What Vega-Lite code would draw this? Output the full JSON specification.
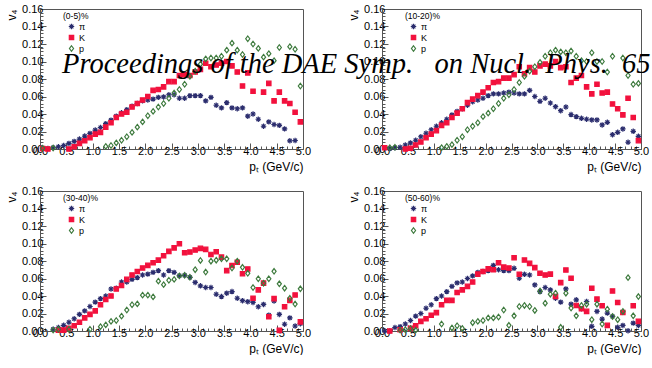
{
"$schema": "https://vega.github.io/schema/vega-lite/v6.json",
"background": "white",
"padding": {"left": 5, "top": 2, "right": 0, "bottom": 0},
"title": {"text": "Proceedings of the DAE Symp.\u00a0\u00a0 on Nucl.\u00a0 Phys.\u00a0 65", "font": "Liberation Serif", "fontSize": 28.5, "fontStyle": "italic", "fontWeight": "normal", "color": "#000", "anchor": "start", "frame": "group", "orient": "top", "offset": 0, "baseline": "alphabetic", "dx": 22, "dy": 99},
"datasets": {"d": [
{"c":1,"s":"π","x":0.05,"v":0.001},{"c":1,"s":"π","x":0.15,"v":0.0005},{"c":1,"s":"π","x":0.25,"v":0.0015},{"c":1,"s":"π","x":0.35,"v":0.0026},{"c":1,"s":"π","x":0.45,"v":0.004},{"c":1,"s":"π","x":0.55,"v":0.0064},{"c":1,"s":"π","x":0.65,"v":0.0087},{"c":1,"s":"π","x":0.75,"v":0.0113},{"c":1,"s":"π","x":0.85,"v":0.0148},{"c":1,"s":"π","x":0.95,"v":0.0178},{"c":1,"s":"π","x":1.05,"v":0.0216},{"c":1,"s":"π","x":1.15,"v":0.0246},{"c":1,"s":"π","x":1.25,"v":0.029},{"c":1,"s":"π","x":1.35,"v":0.033},{"c":1,"s":"π","x":1.45,"v":0.0375},{"c":1,"s":"π","x":1.55,"v":0.0413},{"c":1,"s":"π","x":1.65,"v":0.045},{"c":1,"s":"π","x":1.75,"v":0.049},{"c":1,"s":"π","x":1.85,"v":0.052},{"c":1,"s":"π","x":1.95,"v":0.055},{"c":1,"s":"π","x":2.05,"v":0.056},{"c":1,"s":"π","x":2.15,"v":0.057},{"c":1,"s":"π","x":2.25,"v":0.059},{"c":1,"s":"π","x":2.35,"v":0.0595},{"c":1,"s":"π","x":2.45,"v":0.062},{"c":1,"s":"π","x":2.55,"v":0.062},{"c":1,"s":"π","x":2.65,"v":0.058},{"c":1,"s":"π","x":2.75,"v":0.058},{"c":1,"s":"π","x":2.85,"v":0.061},{"c":1,"s":"π","x":2.95,"v":0.061},{"c":1,"s":"π","x":3.05,"v":0.061},{"c":1,"s":"π","x":3.15,"v":0.055},{"c":1,"s":"π","x":3.25,"v":0.059},{"c":1,"s":"π","x":3.35,"v":0.05},{"c":1,"s":"π","x":3.45,"v":0.047},{"c":1,"s":"π","x":3.55,"v":0.053},{"c":1,"s":"π","x":3.65,"v":0.047},{"c":1,"s":"π","x":3.75,"v":0.046},{"c":1,"s":"π","x":3.85,"v":0.047},{"c":1,"s":"π","x":3.95,"v":0.0375},{"c":1,"s":"π","x":4.05,"v":0.04},{"c":1,"s":"π","x":4.15,"v":0.034},{"c":1,"s":"π","x":4.25,"v":0.026},{"c":1,"s":"π","x":4.35,"v":0.031},{"c":1,"s":"π","x":4.45,"v":0.028},{"c":1,"s":"π","x":4.55,"v":0.027},{"c":1,"s":"π","x":4.65,"v":0.023},{"c":1,"s":"π","x":4.75,"v":0.0094},{"c":1,"s":"π","x":4.85,"v":0.0097},
{"c":1,"s":"K","x":0.05,"v":0.0005},{"c":1,"s":"K","x":0.15,"v":0.0},{"c":1,"s":"K","x":0.55,"v":0.0},{"c":1,"s":"K","x":0.65,"v":0.0026},{"c":1,"s":"K","x":0.75,"v":0.0064},{"c":1,"s":"K","x":0.85,"v":0.0094},{"c":1,"s":"K","x":0.95,"v":0.013},{"c":1,"s":"K","x":1.05,"v":0.017},{"c":1,"s":"K","x":1.15,"v":0.019},{"c":1,"s":"K","x":1.25,"v":0.025},{"c":1,"s":"K","x":1.35,"v":0.03},{"c":1,"s":"K","x":1.45,"v":0.036},{"c":1,"s":"K","x":1.55,"v":0.04},{"c":1,"s":"K","x":1.65,"v":0.042},{"c":1,"s":"K","x":1.75,"v":0.048},{"c":1,"s":"K","x":1.85,"v":0.052},{"c":1,"s":"K","x":1.95,"v":0.056},{"c":1,"s":"K","x":2.05,"v":0.06},{"c":1,"s":"K","x":2.15,"v":0.067},{"c":1,"s":"K","x":2.25,"v":0.068},{"c":1,"s":"K","x":2.35,"v":0.071},{"c":1,"s":"K","x":2.45,"v":0.077},{"c":1,"s":"K","x":2.55,"v":0.077},{"c":1,"s":"K","x":2.65,"v":0.084},{"c":1,"s":"K","x":2.75,"v":0.085},{"c":1,"s":"K","x":2.85,"v":0.084},{"c":1,"s":"K","x":2.95,"v":0.088},{"c":1,"s":"K","x":3.05,"v":0.091},{"c":1,"s":"K","x":3.15,"v":0.098},{"c":1,"s":"K","x":3.25,"v":0.094},{"c":1,"s":"K","x":3.35,"v":0.096},{"c":1,"s":"K","x":3.45,"v":0.098},{"c":1,"s":"K","x":3.55,"v":0.1},{"c":1,"s":"K","x":3.65,"v":0.095},{"c":1,"s":"K","x":3.75,"v":0.088},{"c":1,"s":"K","x":3.85,"v":0.072},{"c":1,"s":"K","x":3.95,"v":0.087},{"c":1,"s":"K","x":4.05,"v":0.066},{"c":1,"s":"K","x":4.25,"v":0.065},{"c":1,"s":"K","x":4.35,"v":0.075},{"c":1,"s":"K","x":4.45,"v":0.055},{"c":1,"s":"K","x":4.55,"v":0.065},{"c":1,"s":"K","x":4.65,"v":0.055},{"c":1,"s":"K","x":4.75,"v":0.052},{"c":1,"s":"K","x":4.85,"v":0.042},{"c":1,"s":"K","x":4.95,"v":0.031},
{"c":1,"s":"p","x":0.05,"v":0.001},{"c":1,"s":"p","x":0.25,"v":0.0012},{"c":1,"s":"p","x":1.25,"v":0.003},{"c":1,"s":"p","x":1.35,"v":0.004},{"c":1,"s":"p","x":1.45,"v":0.007},{"c":1,"s":"p","x":1.55,"v":0.01},{"c":1,"s":"p","x":1.65,"v":0.014},{"c":1,"s":"p","x":1.75,"v":0.019},{"c":1,"s":"p","x":1.85,"v":0.025},{"c":1,"s":"p","x":1.95,"v":0.031},{"c":1,"s":"p","x":2.05,"v":0.038},{"c":1,"s":"p","x":2.15,"v":0.043},{"c":1,"s":"p","x":2.25,"v":0.048},{"c":1,"s":"p","x":2.35,"v":0.052},{"c":1,"s":"p","x":2.45,"v":0.058},{"c":1,"s":"p","x":2.55,"v":0.064},{"c":1,"s":"p","x":2.65,"v":0.068},{"c":1,"s":"p","x":2.75,"v":0.074},{"c":1,"s":"p","x":2.85,"v":0.083},{"c":1,"s":"p","x":2.95,"v":0.089},{"c":1,"s":"p","x":3.05,"v":0.097},{"c":1,"s":"p","x":3.15,"v":0.103},{"c":1,"s":"p","x":3.25,"v":0.104},{"c":1,"s":"p","x":3.35,"v":0.104},{"c":1,"s":"p","x":3.45,"v":0.106},{"c":1,"s":"p","x":3.55,"v":0.113},{"c":1,"s":"p","x":3.65,"v":0.121},{"c":1,"s":"p","x":3.75,"v":0.113},{"c":1,"s":"p","x":3.85,"v":0.108},{"c":1,"s":"p","x":3.95,"v":0.126},{"c":1,"s":"p","x":4.05,"v":0.12},{"c":1,"s":"p","x":4.15,"v":0.115},{"c":1,"s":"p","x":4.25,"v":0.105},{"c":1,"s":"p","x":4.35,"v":0.109},{"c":1,"s":"p","x":4.45,"v":0.101},{"c":1,"s":"p","x":4.55,"v":0.116},{"c":1,"s":"p","x":4.75,"v":0.117},{"c":1,"s":"p","x":4.85,"v":0.114},{"c":1,"s":"p","x":4.95,"v":0.072},
{"c":2,"s":"π","x":0.15,"v":0.0005},{"c":2,"s":"π","x":0.25,"v":0.0015},{"c":2,"s":"π","x":0.35,"v":0.002},{"c":2,"s":"π","x":0.45,"v":0.0046},{"c":2,"s":"π","x":0.55,"v":0.007},{"c":2,"s":"π","x":0.65,"v":0.01},{"c":2,"s":"π","x":0.75,"v":0.014},{"c":2,"s":"π","x":0.85,"v":0.018},{"c":2,"s":"π","x":0.95,"v":0.022},{"c":2,"s":"π","x":1.05,"v":0.026},{"c":2,"s":"π","x":1.15,"v":0.03},{"c":2,"s":"π","x":1.25,"v":0.034},{"c":2,"s":"π","x":1.35,"v":0.039},{"c":2,"s":"π","x":1.45,"v":0.043},{"c":2,"s":"π","x":1.55,"v":0.046},{"c":2,"s":"π","x":1.65,"v":0.05},{"c":2,"s":"π","x":1.75,"v":0.054},{"c":2,"s":"π","x":1.85,"v":0.056},{"c":2,"s":"π","x":1.95,"v":0.058},{"c":2,"s":"π","x":2.05,"v":0.061},{"c":2,"s":"π","x":2.15,"v":0.063},{"c":2,"s":"π","x":2.25,"v":0.063},{"c":2,"s":"π","x":2.35,"v":0.064},{"c":2,"s":"π","x":2.45,"v":0.065},{"c":2,"s":"π","x":2.55,"v":0.064},{"c":2,"s":"π","x":2.65,"v":0.063},{"c":2,"s":"π","x":2.75,"v":0.063},{"c":2,"s":"π","x":2.85,"v":0.067},{"c":2,"s":"π","x":2.95,"v":0.06},{"c":2,"s":"π","x":3.05,"v":0.0545},{"c":2,"s":"π","x":3.15,"v":0.058},{"c":2,"s":"π","x":3.25,"v":0.0526},{"c":2,"s":"π","x":3.35,"v":0.0484},{"c":2,"s":"π","x":3.45,"v":0.0438},{"c":2,"s":"π","x":3.55,"v":0.048},{"c":2,"s":"π","x":3.65,"v":0.0393},{"c":2,"s":"π","x":3.75,"v":0.037},{"c":2,"s":"π","x":3.85,"v":0.0351},{"c":2,"s":"π","x":3.95,"v":0.034},{"c":2,"s":"π","x":4.05,"v":0.0332},{"c":2,"s":"π","x":4.15,"v":0.0332},{"c":2,"s":"π","x":4.25,"v":0.0275},{"c":2,"s":"π","x":4.35,"v":0.0305},{"c":2,"s":"π","x":4.45,"v":0.0164},{"c":2,"s":"π","x":4.55,"v":0.0191},{"c":2,"s":"π","x":4.65,"v":0.0229},{"c":2,"s":"π","x":4.75,"v":0.0077},{"c":2,"s":"π","x":4.85,"v":0.0202},{"c":2,"s":"π","x":4.95,"v":0.0145},
{"c":2,"s":"K","x":0.05,"v":0.0015},{"c":2,"s":"K","x":0.45,"v":0.0},{"c":2,"s":"K","x":0.55,"v":0.0008},{"c":2,"s":"K","x":0.65,"v":0.0046},{"c":2,"s":"K","x":0.75,"v":0.008},{"c":2,"s":"K","x":0.85,"v":0.013},{"c":2,"s":"K","x":0.95,"v":0.017},{"c":2,"s":"K","x":1.05,"v":0.021},{"c":2,"s":"K","x":1.15,"v":0.027},{"c":2,"s":"K","x":1.25,"v":0.03},{"c":2,"s":"K","x":1.35,"v":0.036},{"c":2,"s":"K","x":1.45,"v":0.041},{"c":2,"s":"K","x":1.55,"v":0.046},{"c":2,"s":"K","x":1.65,"v":0.053},{"c":2,"s":"K","x":1.75,"v":0.057},{"c":2,"s":"K","x":1.85,"v":0.061},{"c":2,"s":"K","x":1.95,"v":0.065},{"c":2,"s":"K","x":2.05,"v":0.07},{"c":2,"s":"K","x":2.15,"v":0.076},{"c":2,"s":"K","x":2.25,"v":0.077},{"c":2,"s":"K","x":2.35,"v":0.081},{"c":2,"s":"K","x":2.45,"v":0.081},{"c":2,"s":"K","x":2.55,"v":0.085},{"c":2,"s":"K","x":2.65,"v":0.094},{"c":2,"s":"K","x":2.75,"v":0.086},{"c":2,"s":"K","x":2.85,"v":0.093},{"c":2,"s":"K","x":2.95,"v":0.088},{"c":2,"s":"K","x":3.05,"v":0.095},{"c":2,"s":"K","x":3.15,"v":0.097},{"c":2,"s":"K","x":3.25,"v":0.095},{"c":2,"s":"K","x":3.35,"v":0.1},{"c":2,"s":"K","x":3.45,"v":0.093},{"c":2,"s":"K","x":3.55,"v":0.094},{"c":2,"s":"K","x":3.65,"v":0.076},{"c":2,"s":"K","x":3.75,"v":0.081},{"c":2,"s":"K","x":3.85,"v":0.084},{"c":2,"s":"K","x":3.95,"v":0.071},{"c":2,"s":"K","x":4.05,"v":0.063},{"c":2,"s":"K","x":4.15,"v":0.074},{"c":2,"s":"K","x":4.25,"v":0.064},{"c":2,"s":"K","x":4.35,"v":0.065},{"c":2,"s":"K","x":4.45,"v":0.0515},{"c":2,"s":"K","x":4.55,"v":0.046},{"c":2,"s":"K","x":4.65,"v":0.039},{"c":2,"s":"K","x":4.75,"v":0.058},{"c":2,"s":"K","x":4.85,"v":0.036},{"c":2,"s":"K","x":4.95,"v":0.0096},
{"c":2,"s":"p","x":0.15,"v":0.0015},{"c":2,"s":"p","x":0.25,"v":0.002},{"c":2,"s":"p","x":1.15,"v":0.0015},{"c":2,"s":"p","x":1.25,"v":0.003},{"c":2,"s":"p","x":1.35,"v":0.005},{"c":2,"s":"p","x":1.45,"v":0.01},{"c":2,"s":"p","x":1.55,"v":0.014},{"c":2,"s":"p","x":1.65,"v":0.022},{"c":2,"s":"p","x":1.75,"v":0.026},{"c":2,"s":"p","x":1.85,"v":0.03},{"c":2,"s":"p","x":1.95,"v":0.037},{"c":2,"s":"p","x":2.05,"v":0.041},{"c":2,"s":"p","x":2.15,"v":0.046},{"c":2,"s":"p","x":2.25,"v":0.052},{"c":2,"s":"p","x":2.35,"v":0.058},{"c":2,"s":"p","x":2.45,"v":0.062},{"c":2,"s":"p","x":2.55,"v":0.068},{"c":2,"s":"p","x":2.65,"v":0.076},{"c":2,"s":"p","x":2.75,"v":0.083},{"c":2,"s":"p","x":2.85,"v":0.089},{"c":2,"s":"p","x":2.95,"v":0.094},{"c":2,"s":"p","x":3.05,"v":0.099},{"c":2,"s":"p","x":3.15,"v":0.106},{"c":2,"s":"p","x":3.25,"v":0.11},{"c":2,"s":"p","x":3.35,"v":0.113},{"c":2,"s":"p","x":3.45,"v":0.111},{"c":2,"s":"p","x":3.55,"v":0.11},{"c":2,"s":"p","x":3.65,"v":0.112},{"c":2,"s":"p","x":3.75,"v":0.106},{"c":2,"s":"p","x":3.85,"v":0.101},{"c":2,"s":"p","x":3.95,"v":0.1},{"c":2,"s":"p","x":4.05,"v":0.11},{"c":2,"s":"p","x":4.15,"v":0.1},{"c":2,"s":"p","x":4.25,"v":0.1},{"c":2,"s":"p","x":4.35,"v":0.088},{"c":2,"s":"p","x":4.45,"v":0.106},{"c":2,"s":"p","x":4.65,"v":0.104},{"c":2,"s":"p","x":4.75,"v":0.084},{"c":2,"s":"p","x":4.85,"v":0.074},{"c":2,"s":"p","x":4.95,"v":0.075},
{"c":3,"s":"π","x":0.25,"v":0.002},{"c":3,"s":"π","x":0.35,"v":0.004},{"c":3,"s":"π","x":0.45,"v":0.0065},{"c":3,"s":"π","x":0.55,"v":0.01},{"c":3,"s":"π","x":0.65,"v":0.014},{"c":3,"s":"π","x":0.75,"v":0.019},{"c":3,"s":"π","x":0.85,"v":0.023},{"c":3,"s":"π","x":0.95,"v":0.028},{"c":3,"s":"π","x":1.05,"v":0.033},{"c":3,"s":"π","x":1.15,"v":0.037},{"c":3,"s":"π","x":1.25,"v":0.04},{"c":3,"s":"π","x":1.35,"v":0.048},{"c":3,"s":"π","x":1.45,"v":0.049},{"c":3,"s":"π","x":1.55,"v":0.056},{"c":3,"s":"π","x":1.65,"v":0.056},{"c":3,"s":"π","x":1.75,"v":0.059},{"c":3,"s":"π","x":1.85,"v":0.061},{"c":3,"s":"π","x":1.95,"v":0.064},{"c":3,"s":"π","x":2.05,"v":0.065},{"c":3,"s":"π","x":2.15,"v":0.067},{"c":3,"s":"π","x":2.25,"v":0.069},{"c":3,"s":"π","x":2.35,"v":0.064},{"c":3,"s":"π","x":2.45,"v":0.069},{"c":3,"s":"π","x":2.55,"v":0.067},{"c":3,"s":"π","x":2.65,"v":0.0632},{"c":3,"s":"π","x":2.75,"v":0.0636},{"c":3,"s":"π","x":2.85,"v":0.0613},{"c":3,"s":"π","x":2.95,"v":0.0555},{"c":3,"s":"π","x":3.05,"v":0.0516},{"c":3,"s":"π","x":3.15,"v":0.0497},{"c":3,"s":"π","x":3.25,"v":0.0497},{"c":3,"s":"π","x":3.35,"v":0.042},{"c":3,"s":"π","x":3.45,"v":0.0393},{"c":3,"s":"π","x":3.55,"v":0.0432},{"c":3,"s":"π","x":3.65,"v":0.0451},{"c":3,"s":"π","x":3.75,"v":0.0374},{"c":3,"s":"π","x":3.85,"v":0.0347},{"c":3,"s":"π","x":3.95,"v":0.0335},{"c":3,"s":"π","x":4.05,"v":0.0327},{"c":3,"s":"π","x":4.15,"v":0.0277},{"c":3,"s":"π","x":4.25,"v":0.0304},{"c":3,"s":"π","x":4.35,"v":0.0181},{"c":3,"s":"π","x":4.45,"v":0.0343},{"c":3,"s":"π","x":4.55,"v":0.0189},{"c":3,"s":"π","x":4.65,"v":0.0077},{"c":3,"s":"π","x":4.75,"v":0.015},{"c":3,"s":"π","x":4.85,"v":0.0057},{"c":3,"s":"π","x":4.95,"v":0.0084},
{"c":3,"s":"K","x":0.35,"v":0.001},{"c":3,"s":"K","x":0.45,"v":0.001},{"c":3,"s":"K","x":0.55,"v":0.003},{"c":3,"s":"K","x":0.65,"v":0.006},{"c":3,"s":"K","x":0.75,"v":0.01},{"c":3,"s":"K","x":0.85,"v":0.015},{"c":3,"s":"K","x":0.95,"v":0.019},{"c":3,"s":"K","x":1.05,"v":0.023},{"c":3,"s":"K","x":1.15,"v":0.03},{"c":3,"s":"K","x":1.25,"v":0.036},{"c":3,"s":"K","x":1.35,"v":0.04},{"c":3,"s":"K","x":1.45,"v":0.048},{"c":3,"s":"K","x":1.55,"v":0.052},{"c":3,"s":"K","x":1.65,"v":0.059},{"c":3,"s":"K","x":1.75,"v":0.064},{"c":3,"s":"K","x":1.85,"v":0.068},{"c":3,"s":"K","x":1.95,"v":0.072},{"c":3,"s":"K","x":2.05,"v":0.075},{"c":3,"s":"K","x":2.15,"v":0.078},{"c":3,"s":"K","x":2.25,"v":0.081},{"c":3,"s":"K","x":2.35,"v":0.086},{"c":3,"s":"K","x":2.45,"v":0.091},{"c":3,"s":"K","x":2.55,"v":0.095},{"c":3,"s":"K","x":2.65,"v":0.0998},{"c":3,"s":"K","x":2.75,"v":0.0894},{"c":3,"s":"K","x":2.85,"v":0.0902},{"c":3,"s":"K","x":2.95,"v":0.0925},{"c":3,"s":"K","x":3.05,"v":0.0944},{"c":3,"s":"K","x":3.15,"v":0.0933},{"c":3,"s":"K","x":3.25,"v":0.0875},{"c":3,"s":"K","x":3.35,"v":0.0906},{"c":3,"s":"K","x":3.45,"v":0.0844},{"c":3,"s":"K","x":3.55,"v":0.069},{"c":3,"s":"K","x":3.65,"v":0.0748},{"c":3,"s":"K","x":3.75,"v":0.0786},{"c":3,"s":"K","x":3.85,"v":0.0655},{"c":3,"s":"K","x":3.95,"v":0.0709},{"c":3,"s":"K","x":4.05,"v":0.0374},{"c":3,"s":"K","x":4.15,"v":0.047},{"c":3,"s":"K","x":4.25,"v":0.0547},{"c":3,"s":"K","x":4.35,"v":0.0162},{"c":3,"s":"K","x":4.45,"v":0.037},{"c":3,"s":"K","x":4.55,"v":0.0007},{"c":3,"s":"K","x":4.65,"v":0.0277},{"c":3,"s":"K","x":4.75,"v":0.035},{"c":3,"s":"K","x":4.85,"v":0.0412},{"c":3,"s":"K","x":4.95,"v":0.0104},
{"c":3,"s":"p","x":0.25,"v":0.001},{"c":3,"s":"p","x":0.35,"v":0.002},{"c":3,"s":"p","x":0.55,"v":0.002},{"c":3,"s":"p","x":0.95,"v":0.002},{"c":3,"s":"p","x":1.15,"v":0.005},{"c":3,"s":"p","x":1.25,"v":0.007},{"c":3,"s":"p","x":1.35,"v":0.011},{"c":3,"s":"p","x":1.45,"v":0.012},{"c":3,"s":"p","x":1.55,"v":0.017},{"c":3,"s":"p","x":1.65,"v":0.024},{"c":3,"s":"p","x":1.75,"v":0.03},{"c":3,"s":"p","x":1.85,"v":0.031},{"c":3,"s":"p","x":1.95,"v":0.041},{"c":3,"s":"p","x":2.05,"v":0.041},{"c":3,"s":"p","x":2.15,"v":0.039},{"c":3,"s":"p","x":2.25,"v":0.057},{"c":3,"s":"p","x":2.35,"v":0.053},{"c":3,"s":"p","x":2.45,"v":0.058},{"c":3,"s":"p","x":2.55,"v":0.059},{"c":3,"s":"p","x":2.65,"v":0.063},{"c":3,"s":"p","x":2.75,"v":0.0636},{"c":3,"s":"p","x":2.85,"v":0.0613},{"c":3,"s":"p","x":2.95,"v":0.0701},{"c":3,"s":"p","x":3.05,"v":0.0806},{"c":3,"s":"p","x":3.15,"v":0.0674},{"c":3,"s":"p","x":3.25,"v":0.0798},{"c":3,"s":"p","x":3.35,"v":0.0809},{"c":3,"s":"p","x":3.45,"v":0.0825},{"c":3,"s":"p","x":3.55,"v":0.0825},{"c":3,"s":"p","x":3.65,"v":0.072},{"c":3,"s":"p","x":3.75,"v":0.0798},{"c":3,"s":"p","x":3.85,"v":0.0728},{"c":3,"s":"p","x":3.95,"v":0.0659},{"c":3,"s":"p","x":4.05,"v":0.0497},{"c":3,"s":"p","x":4.15,"v":0.0597},{"c":3,"s":"p","x":4.25,"v":0.0547},{"c":3,"s":"p","x":4.35,"v":0.0597},{"c":3,"s":"p","x":4.45,"v":0.0682},{"c":3,"s":"p","x":4.55,"v":0.0539},{"c":3,"s":"p","x":4.65,"v":0.0489},{"c":3,"s":"p","x":4.75,"v":0.0374},{"c":3,"s":"p","x":4.85,"v":0.0308},{"c":3,"s":"p","x":4.95,"v":0.0482},
{"c":4,"s":"π","x":0.05,"v":0.0},{"c":4,"s":"π","x":0.15,"v":0.0},{"c":4,"s":"π","x":0.25,"v":0.004},{"c":4,"s":"π","x":0.35,"v":0.005},{"c":4,"s":"π","x":0.45,"v":0.008},{"c":4,"s":"π","x":0.55,"v":0.012},{"c":4,"s":"π","x":0.65,"v":0.017},{"c":4,"s":"π","x":0.75,"v":0.02},{"c":4,"s":"π","x":0.85,"v":0.026},{"c":4,"s":"π","x":0.95,"v":0.03},{"c":4,"s":"π","x":1.05,"v":0.037},{"c":4,"s":"π","x":1.15,"v":0.04},{"c":4,"s":"π","x":1.25,"v":0.045},{"c":4,"s":"π","x":1.35,"v":0.051},{"c":4,"s":"π","x":1.45,"v":0.055},{"c":4,"s":"π","x":1.55,"v":0.056},{"c":4,"s":"π","x":1.65,"v":0.06},{"c":4,"s":"π","x":1.75,"v":0.063},{"c":4,"s":"π","x":1.85,"v":0.067},{"c":4,"s":"π","x":1.95,"v":0.068},{"c":4,"s":"π","x":2.05,"v":0.069},{"c":4,"s":"π","x":2.15,"v":0.075},{"c":4,"s":"π","x":2.25,"v":0.07},{"c":4,"s":"π","x":2.35,"v":0.069},{"c":4,"s":"π","x":2.45,"v":0.069},{"c":4,"s":"π","x":2.55,"v":0.0716},{"c":4,"s":"π","x":2.65,"v":0.0603},{"c":4,"s":"π","x":2.75,"v":0.0648},{"c":4,"s":"π","x":2.85,"v":0.064},{"c":4,"s":"π","x":2.95,"v":0.0527},{"c":4,"s":"π","x":3.05,"v":0.0451},{"c":4,"s":"π","x":3.15,"v":0.0497},{"c":4,"s":"π","x":3.25,"v":0.047},{"c":4,"s":"π","x":3.35,"v":0.0375},{"c":4,"s":"π","x":3.45,"v":0.033},{"c":4,"s":"π","x":3.55,"v":0.0481},{"c":4,"s":"π","x":3.65,"v":0.0307},{"c":4,"s":"π","x":3.75,"v":0.0356},{"c":4,"s":"π","x":3.85,"v":0.0254},{"c":4,"s":"π","x":3.95,"v":0.0337},{"c":4,"s":"π","x":4.05,"v":0.0053},{"c":4,"s":"π","x":4.15,"v":0.0224},{"c":4,"s":"π","x":4.25,"v":0.0136},{"c":4,"s":"π","x":4.35,"v":0.0205},{"c":4,"s":"π","x":4.45,"v":0.0167},{"c":4,"s":"π","x":4.55,"v":0.0042},{"c":4,"s":"π","x":4.65,"v":0.0064},{"c":4,"s":"π","x":4.75,"v":0.0003},{"c":4,"s":"π","x":4.85,"v":0.009},{"c":4,"s":"π","x":4.95,"v":0.0064},
{"c":4,"s":"K","x":0.15,"v":0.0},{"c":4,"s":"K","x":0.35,"v":0.0015},{"c":4,"s":"K","x":0.55,"v":0.003},{"c":4,"s":"K","x":0.65,"v":0.006},{"c":4,"s":"K","x":0.75,"v":0.011},{"c":4,"s":"K","x":0.85,"v":0.014},{"c":4,"s":"K","x":0.95,"v":0.018},{"c":4,"s":"K","x":1.05,"v":0.021},{"c":4,"s":"K","x":1.15,"v":0.03},{"c":4,"s":"K","x":1.25,"v":0.035},{"c":4,"s":"K","x":1.35,"v":0.035},{"c":4,"s":"K","x":1.45,"v":0.044},{"c":4,"s":"K","x":1.55,"v":0.047},{"c":4,"s":"K","x":1.65,"v":0.051},{"c":4,"s":"K","x":1.75,"v":0.056},{"c":4,"s":"K","x":1.85,"v":0.065},{"c":4,"s":"K","x":1.95,"v":0.068},{"c":4,"s":"K","x":2.05,"v":0.071},{"c":4,"s":"K","x":2.15,"v":0.07},{"c":4,"s":"K","x":2.25,"v":0.078},{"c":4,"s":"K","x":2.35,"v":0.073},{"c":4,"s":"K","x":2.45,"v":0.072},{"c":4,"s":"K","x":2.55,"v":0.0838},{"c":4,"s":"K","x":2.65,"v":0.0648},{"c":4,"s":"K","x":2.75,"v":0.0811},{"c":4,"s":"K","x":2.85,"v":0.0773},{"c":4,"s":"K","x":2.95,"v":0.0724},{"c":4,"s":"K","x":3.05,"v":0.066},{"c":4,"s":"K","x":3.15,"v":0.064},{"c":4,"s":"K","x":3.25,"v":0.065},{"c":4,"s":"K","x":3.35,"v":0.0394},{"c":4,"s":"K","x":3.45,"v":0.0553},{"c":4,"s":"K","x":3.55,"v":0.0697},{"c":4,"s":"K","x":3.65,"v":0.0603},{"c":4,"s":"K","x":3.75,"v":0.0292},{"c":4,"s":"K","x":3.85,"v":0.0254},{"c":4,"s":"K","x":3.95,"v":0.0224},{"c":4,"s":"K","x":4.05,"v":0.0489},{"c":4,"s":"K","x":4.15,"v":0.0364},{"c":4,"s":"K","x":4.25,"v":0.0288},{"c":4,"s":"K","x":4.35,"v":0.0064},{"c":4,"s":"K","x":4.45,"v":0.0458},{"c":4,"s":"K","x":4.55,"v":0.0326},{"c":4,"s":"K","x":4.65,"v":0.0212},{"c":4,"s":"K","x":4.85,"v":0.0288},{"c":4,"s":"K","x":4.95,"v":0.011},
{"c":4,"s":"p","x":0.35,"v":0.001},{"c":4,"s":"p","x":0.45,"v":0.0015},{"c":4,"s":"p","x":0.55,"v":0.003},{"c":4,"s":"p","x":0.65,"v":0.001},{"c":4,"s":"p","x":1.15,"v":0.008},{"c":4,"s":"p","x":1.35,"v":0.0035},{"c":4,"s":"p","x":1.45,"v":0.006},{"c":4,"s":"p","x":1.55,"v":0.003},{"c":4,"s":"p","x":1.75,"v":0.0095},{"c":4,"s":"p","x":1.85,"v":0.011},{"c":4,"s":"p","x":1.95,"v":0.012},{"c":4,"s":"p","x":2.05,"v":0.015},{"c":4,"s":"p","x":2.15,"v":0.015},{"c":4,"s":"p","x":2.25,"v":0.016},{"c":4,"s":"p","x":2.35,"v":0.024},{"c":4,"s":"p","x":2.45,"v":0.0065},{"c":4,"s":"p","x":2.55,"v":0.0174},{"c":4,"s":"p","x":2.65,"v":0.028},{"c":4,"s":"p","x":2.75,"v":0.0292},{"c":4,"s":"p","x":2.85,"v":0.028},{"c":4,"s":"p","x":2.95,"v":0.0235},{"c":4,"s":"p","x":3.05,"v":0.0458},{"c":4,"s":"p","x":3.15,"v":0.0318},{"c":4,"s":"p","x":3.25,"v":0.0421},{"c":4,"s":"p","x":3.35,"v":0.0432},{"c":4,"s":"p","x":3.45,"v":0.0042},{"c":4,"s":"p","x":3.55,"v":0.0432},{"c":4,"s":"p","x":3.65,"v":0.0262},{"c":4,"s":"p","x":3.75,"v":0.0174},{"c":4,"s":"p","x":3.85,"v":0.0292},{"c":4,"s":"p","x":3.95,"v":0.0307},{"c":4,"s":"p","x":4.05,"v":0.0129},{"c":4,"s":"p","x":4.15,"v":0.0307},{"c":4,"s":"p","x":4.25,"v":0.008},{"c":4,"s":"p","x":4.35,"v":0.025},{"c":4,"s":"p","x":4.45,"v":0.0167},{"c":4,"s":"p","x":4.55,"v":0.0129},{"c":4,"s":"p","x":4.65,"v":0.0224},{"c":4,"s":"p","x":4.75,"v":0.061},{"c":4,"s":"p","x":4.85,"v":0.0174},{"c":4,"s":"p","x":4.95,"v":0.0394}
]},
"columns": 2,
"bounds": "flush",
"spacing": {"row": 42, "column": 79},
"resolve": {"legend": {"shape": "independent", "stroke": "independent", "fill": "independent"}},
"concat": [
{"width": 263, "height": 140, "data": {"name": "d"}, "transform": [{"filter": "datum.c == 1"}],
 "mark": {"type": "point", "size": 30, "strokeWidth": 1.2, "opacity": 1},
 "encoding": {
  "x": {"field": "x", "type": "quantitative", "scale": {"domain": [0, 5], "nice": false, "zero": false}, "axis": {"title": "pₜ (GeV/c)", "values": [0,0.1,0.2,0.3,0.4,0.5,0.6,0.7,0.8,0.9,1,1.1,1.2,1.3,1.4,1.5,1.6,1.7,1.8,1.9,2,2.1,2.2,2.3,2.4,2.5,2.6,2.7,2.8,2.9,3,3.1,3.2,3.3,3.4,3.5,3.6,3.7,3.8,3.9,4,4.1,4.2,4.3,4.4,4.5,4.6,4.7,4.8,4.9,5], "labelExpr": "abs(datum.value*2-round(datum.value*2))<0.001 ? format(datum.value,'.1f') : ''", "tickSize": {"condition": {"test": "abs(datum.value*2-round(datum.value*2))<0.001", "value": -6}, "value": -3}, "labelOverlap": false, "labelFlush": false, "labelPadding": 2, "titleAnchor": "end", "titlePadding": 2}},
  "y": {"field": "v", "type": "quantitative", "scale": {"domain": [0, 0.16], "nice": false, "zero": false}, "axis": {"title": "v₄", "values": [0,0.004,0.008,0.012,0.016,0.02,0.024,0.028,0.032,0.036,0.04,0.044,0.048,0.052,0.056,0.06,0.064,0.068,0.072,0.076,0.08,0.084,0.088,0.092,0.096,0.1,0.104,0.108,0.112,0.116,0.12,0.124,0.128,0.132,0.136,0.14,0.144,0.148,0.152,0.156,0.16], "labelExpr": "abs(datum.value*50-round(datum.value*50))<0.001 ? format(datum.value,'.2f') : ''", "tickSize": {"condition": {"test": "abs(datum.value*50-round(datum.value*50))<0.001", "value": -6}, "value": -3}, "labelOverlap": false, "labelFlush": false, "labelPadding": 3, "titleAnchor": "end", "titlePadding": 3}},
  "shape": {"field": "s", "type": "nominal", "scale": {"domain": ["π","K","p"], "range": ["M-1,0H1M0,-1V1M-0.7,-0.7L0.7,0.7M-0.7,0.7L0.7,-0.7", "M-0.8,-0.8H0.8V0.8H-0.8Z", "M0,-1L0.75,0L0,1L-0.75,0Z"]}, "legend": {"title": "(0-5)%", "orient": "none", "legendX": 23, "legendY": 2.5}},
  "stroke": {"field": "s", "type": "nominal", "scale": {"domain": ["π","K","p"], "range": ["#2b2d6e", "#f2113d", "#3d7a3d"]}, "legend": {"title": "(0-5)%", "orient": "none", "legendX": 23, "legendY": 2.5}},
  "fill": {"field": "s", "type": "nominal", "scale": {"domain": ["π","K","p"], "range": ["transparent", "#f2113d", "transparent"]}, "legend": {"title": "(0-5)%", "orient": "none", "legendX": 23, "legendY": 2.5}}
 }},
{"width": 259, "height": 140, "data": {"name": "d"}, "transform": [{"filter": "datum.c == 2"}],
 "mark": {"type": "point", "size": 30, "strokeWidth": 1.2, "opacity": 1},
 "encoding": {
  "x": {"field": "x", "type": "quantitative", "scale": {"domain": [0, 5], "nice": false, "zero": false}, "axis": {"title": "pₜ (GeV/c)", "values": [0,0.1,0.2,0.3,0.4,0.5,0.6,0.7,0.8,0.9,1,1.1,1.2,1.3,1.4,1.5,1.6,1.7,1.8,1.9,2,2.1,2.2,2.3,2.4,2.5,2.6,2.7,2.8,2.9,3,3.1,3.2,3.3,3.4,3.5,3.6,3.7,3.8,3.9,4,4.1,4.2,4.3,4.4,4.5,4.6,4.7,4.8,4.9,5], "labelExpr": "abs(datum.value*2-round(datum.value*2))<0.001 ? format(datum.value,'.1f') : ''", "tickSize": {"condition": {"test": "abs(datum.value*2-round(datum.value*2))<0.001", "value": -6}, "value": -3}, "labelOverlap": false, "labelFlush": false, "labelPadding": 2, "titleAnchor": "end", "titlePadding": 2}},
  "y": {"field": "v", "type": "quantitative", "scale": {"domain": [0, 0.16], "nice": false, "zero": false}, "axis": {"title": "v₄", "values": [0,0.004,0.008,0.012,0.016,0.02,0.024,0.028,0.032,0.036,0.04,0.044,0.048,0.052,0.056,0.06,0.064,0.068,0.072,0.076,0.08,0.084,0.088,0.092,0.096,0.1,0.104,0.108,0.112,0.116,0.12,0.124,0.128,0.132,0.136,0.14,0.144,0.148,0.152,0.156,0.16], "labelExpr": "abs(datum.value*50-round(datum.value*50))<0.001 ? format(datum.value,'.2f') : ''", "tickSize": {"condition": {"test": "abs(datum.value*50-round(datum.value*50))<0.001", "value": -6}, "value": -3}, "labelOverlap": false, "labelFlush": false, "labelPadding": 3, "titleAnchor": "end", "titlePadding": 3}},
  "shape": {"field": "s", "type": "nominal", "scale": {"domain": ["π","K","p"], "range": ["M-1,0H1M0,-1V1M-0.7,-0.7L0.7,0.7M-0.7,0.7L0.7,-0.7", "M-0.8,-0.8H0.8V0.8H-0.8Z", "M0,-1L0.75,0L0,1L-0.75,0Z"]}, "legend": {"title": "(10-20)%", "orient": "none", "legendX": 23, "legendY": 2.5}},
  "stroke": {"field": "s", "type": "nominal", "scale": {"domain": ["π","K","p"], "range": ["#2b2d6e", "#f2113d", "#3d7a3d"]}, "legend": {"title": "(10-20)%", "orient": "none", "legendX": 23, "legendY": 2.5}},
  "fill": {"field": "s", "type": "nominal", "scale": {"domain": ["π","K","p"], "range": ["transparent", "#f2113d", "transparent"]}, "legend": {"title": "(10-20)%", "orient": "none", "legendX": 23, "legendY": 2.5}}
 }},
{"width": 263, "height": 140, "data": {"name": "d"}, "transform": [{"filter": "datum.c == 3"}],
 "mark": {"type": "point", "size": 30, "strokeWidth": 1.2, "opacity": 1},
 "encoding": {
  "x": {"field": "x", "type": "quantitative", "scale": {"domain": [0, 5], "nice": false, "zero": false}, "axis": {"title": "pₜ (GeV/c)", "values": [0,0.1,0.2,0.3,0.4,0.5,0.6,0.7,0.8,0.9,1,1.1,1.2,1.3,1.4,1.5,1.6,1.7,1.8,1.9,2,2.1,2.2,2.3,2.4,2.5,2.6,2.7,2.8,2.9,3,3.1,3.2,3.3,3.4,3.5,3.6,3.7,3.8,3.9,4,4.1,4.2,4.3,4.4,4.5,4.6,4.7,4.8,4.9,5], "labelExpr": "abs(datum.value*2-round(datum.value*2))<0.001 ? format(datum.value,'.1f') : ''", "tickSize": {"condition": {"test": "abs(datum.value*2-round(datum.value*2))<0.001", "value": -6}, "value": -3}, "labelOverlap": false, "labelFlush": false, "labelPadding": 2, "titleAnchor": "end", "titlePadding": 2}},
  "y": {"field": "v", "type": "quantitative", "scale": {"domain": [0, 0.16], "nice": false, "zero": false}, "axis": {"title": "v₄", "values": [0,0.004,0.008,0.012,0.016,0.02,0.024,0.028,0.032,0.036,0.04,0.044,0.048,0.052,0.056,0.06,0.064,0.068,0.072,0.076,0.08,0.084,0.088,0.092,0.096,0.1,0.104,0.108,0.112,0.116,0.12,0.124,0.128,0.132,0.136,0.14,0.144,0.148,0.152,0.156,0.16], "labelExpr": "abs(datum.value*50-round(datum.value*50))<0.001 ? format(datum.value,'.2f') : ''", "tickSize": {"condition": {"test": "abs(datum.value*50-round(datum.value*50))<0.001", "value": -6}, "value": -3}, "labelOverlap": false, "labelFlush": false, "labelPadding": 3, "titleAnchor": "end", "titlePadding": 3}},
  "shape": {"field": "s", "type": "nominal", "scale": {"domain": ["π","K","p"], "range": ["M-1,0H1M0,-1V1M-0.7,-0.7L0.7,0.7M-0.7,0.7L0.7,-0.7", "M-0.8,-0.8H0.8V0.8H-0.8Z", "M0,-1L0.75,0L0,1L-0.75,0Z"]}, "legend": {"title": "(30-40)%", "orient": "none", "legendX": 23, "legendY": 2.5}},
  "stroke": {"field": "s", "type": "nominal", "scale": {"domain": ["π","K","p"], "range": ["#2b2d6e", "#f2113d", "#3d7a3d"]}, "legend": {"title": "(30-40)%", "orient": "none", "legendX": 23, "legendY": 2.5}},
  "fill": {"field": "s", "type": "nominal", "scale": {"domain": ["π","K","p"], "range": ["transparent", "#f2113d", "transparent"]}, "legend": {"title": "(30-40)%", "orient": "none", "legendX": 23, "legendY": 2.5}}
 }},
{"width": 259, "height": 140, "data": {"name": "d"}, "transform": [{"filter": "datum.c == 4"}],
 "mark": {"type": "point", "size": 30, "strokeWidth": 1.2, "opacity": 1},
 "encoding": {
  "x": {"field": "x", "type": "quantitative", "scale": {"domain": [0, 5], "nice": false, "zero": false}, "axis": {"title": "pₜ (GeV/c)", "values": [0,0.1,0.2,0.3,0.4,0.5,0.6,0.7,0.8,0.9,1,1.1,1.2,1.3,1.4,1.5,1.6,1.7,1.8,1.9,2,2.1,2.2,2.3,2.4,2.5,2.6,2.7,2.8,2.9,3,3.1,3.2,3.3,3.4,3.5,3.6,3.7,3.8,3.9,4,4.1,4.2,4.3,4.4,4.5,4.6,4.7,4.8,4.9,5], "labelExpr": "abs(datum.value*2-round(datum.value*2))<0.001 ? format(datum.value,'.1f') : ''", "tickSize": {"condition": {"test": "abs(datum.value*2-round(datum.value*2))<0.001", "value": -6}, "value": -3}, "labelOverlap": false, "labelFlush": false, "labelPadding": 2, "titleAnchor": "end", "titlePadding": 2}},
  "y": {"field": "v", "type": "quantitative", "scale": {"domain": [0, 0.16], "nice": false, "zero": false}, "axis": {"title": "v₄", "values": [0,0.004,0.008,0.012,0.016,0.02,0.024,0.028,0.032,0.036,0.04,0.044,0.048,0.052,0.056,0.06,0.064,0.068,0.072,0.076,0.08,0.084,0.088,0.092,0.096,0.1,0.104,0.108,0.112,0.116,0.12,0.124,0.128,0.132,0.136,0.14,0.144,0.148,0.152,0.156,0.16], "labelExpr": "abs(datum.value*50-round(datum.value*50))<0.001 ? format(datum.value,'.2f') : ''", "tickSize": {"condition": {"test": "abs(datum.value*50-round(datum.value*50))<0.001", "value": -6}, "value": -3}, "labelOverlap": false, "labelFlush": false, "labelPadding": 3, "titleAnchor": "end", "titlePadding": 3}},
  "shape": {"field": "s", "type": "nominal", "scale": {"domain": ["π","K","p"], "range": ["M-1,0H1M0,-1V1M-0.7,-0.7L0.7,0.7M-0.7,0.7L0.7,-0.7", "M-0.8,-0.8H0.8V0.8H-0.8Z", "M0,-1L0.75,0L0,1L-0.75,0Z"]}, "legend": {"title": "(50-60)%", "orient": "none", "legendX": 23, "legendY": 2.5}},
  "stroke": {"field": "s", "type": "nominal", "scale": {"domain": ["π","K","p"], "range": ["#2b2d6e", "#f2113d", "#3d7a3d"]}, "legend": {"title": "(50-60)%", "orient": "none", "legendX": 23, "legendY": 2.5}},
  "fill": {"field": "s", "type": "nominal", "scale": {"domain": ["π","K","p"], "range": ["transparent", "#f2113d", "transparent"]}, "legend": {"title": "(50-60)%", "orient": "none", "legendX": 23, "legendY": 2.5}}
 }}
],
"config": {
 "font": "Liberation Sans",
 "view": {"stroke": "#555", "strokeWidth": 1},
 "axis": {"grid": false, "domainColor": "#555", "tickColor": "#555", "domainWidth": 1, "tickWidth": 1, "labelFont": "Liberation Sans", "labelFontSize": 11, "labelColor": "#000", "titleFont": "Liberation Sans", "titleFontSize": 12, "titleFontWeight": "normal", "titleColor": "#000"},
 "legend": {"padding": 0, "titleFont": "Liberation Sans", "titleFontSize": 8.5, "titleFontWeight": "normal", "titleColor": "#000", "titlePadding": 2, "labelFont": "Liberation Sans", "labelFontSize": 9, "labelColor": "#000", "labelOffset": 3, "rowPadding": 0, "symbolSize": 30, "symbolStrokeWidth": 1.2, "symbolOffset": 4}
}
}
